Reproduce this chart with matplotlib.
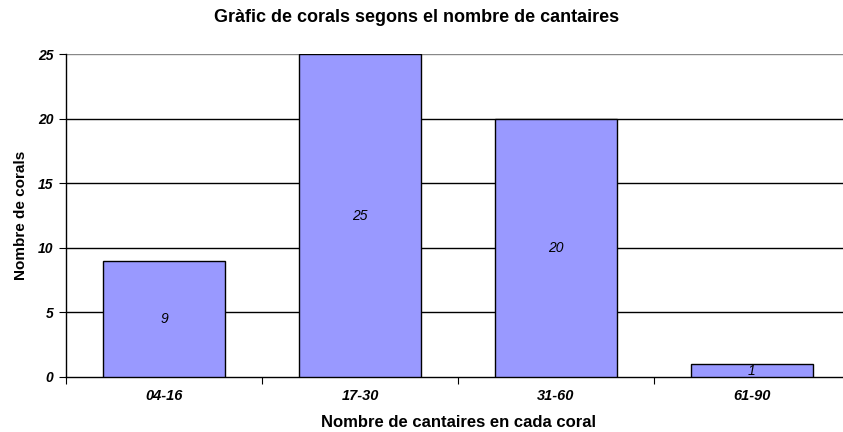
import matplotlib.pyplot as plt
import numpy as np

# dades del gràfic
categories = ['04-16', '17-30', '31-60', '61-90']
corals = [9, 25, 20, 1]
y_ticks = [0, 5, 10, 15, 20, 25]

plt.rcParams['font.family'] = ['Liberation Sans', 'DejaVu Sans']

fig = plt.figure(figsize=(8.43, 4.32), dpi=100)
ax = fig.add_axes([66 / 843, 55 / 432, 784 / 843, 323 / 432])

x = np.arange(len(categories))
ax.bar(x, corals, width=0.62, color='#9999ff', edgecolor='black', linewidth=1, zorder=3)

# etiquetes dins les barres
for xi, v in zip(x, corals):
    ax.text(xi, v / 2, str(v), ha='center', va='center', fontsize=10, fontstyle='italic', zorder=4)

ax.set_xlim(-0.5, len(categories) - 0.5)
ax.set_ylim(0, 25)

# línies de graella
for yv in y_ticks[1:]:
    ax.axhline(yv, color='black' if yv < 25 else '#888888', linewidth=1, zorder=1)

ax.set_yticks(y_ticks)
ax.set_yticklabels([str(v) for v in y_ticks], fontsize=10, fontweight='bold', fontstyle='italic')
ax.set_xticks(np.arange(-0.5, len(categories), 1.0))
ax.set_xticklabels([])
ax.set_xticks(x, minor=True)
ax.set_xticklabels(categories, minor=True, fontsize=10.5, fontweight='bold', fontstyle='italic')
ax.tick_params(axis='x', which='minor', length=0, pad=9)
ax.tick_params(axis='x', which='major', length=5, direction='out')
ax.tick_params(axis='y', length=5, direction='out', pad=4)

for s in ['top', 'right']:
    ax.spines[s].set_visible(False)
ax.spines['left'].set_linewidth(1)
ax.spines['bottom'].set_linewidth(1)

ax.set_xlabel('Nombre de cantaires en cada coral', fontsize=12, fontweight='bold', labelpad=8)
ax.set_ylabel('Nombre de corals', fontsize=11, fontweight='bold', labelpad=7)
fig.text(417 / 843, 1 - 17 / 432, 'Gràfic de corals segons el nombre de cantaires',
         ha='center', va='center', fontsize=13, fontweight='bold')

plt.savefig('out.png', dpi=100)
